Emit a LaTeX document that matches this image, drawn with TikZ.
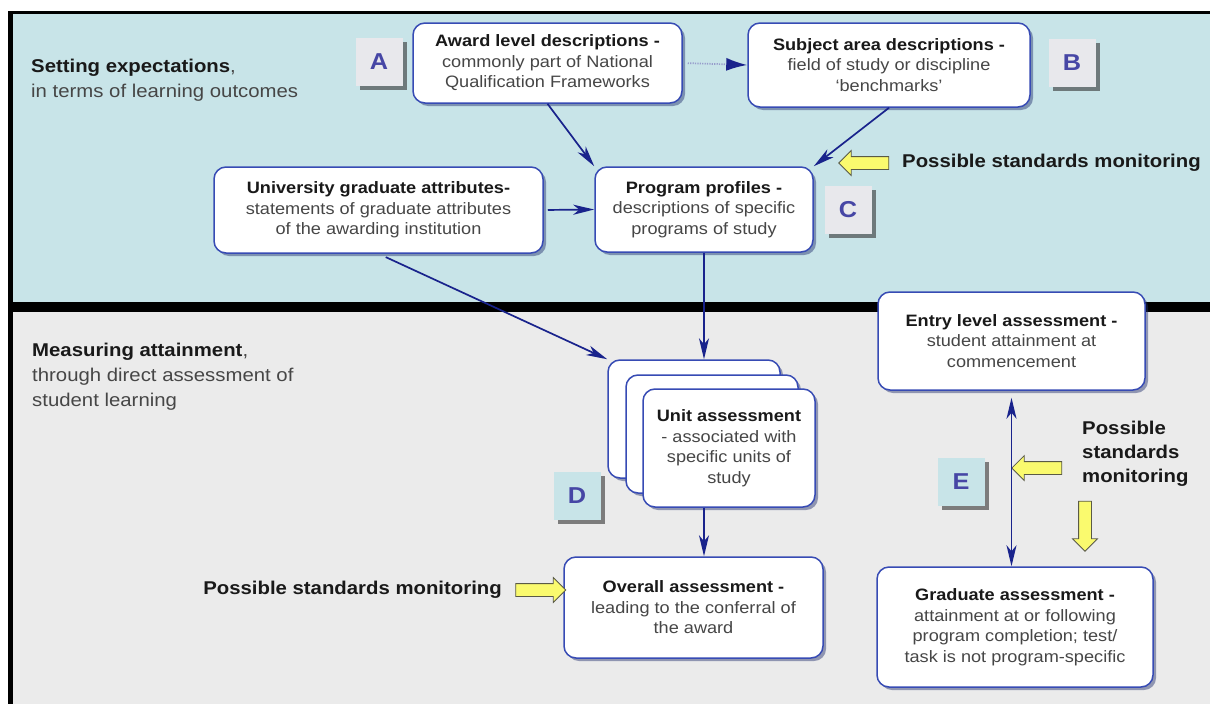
\documentclass[tikz,border=0pt]{standalone}
\usepackage{fontspec}
\setmainfont{Liberation Sans}[FakeStretch=1.1]
\usepackage{tikz}
\usetikzlibrary{arrows.meta,shadows,shapes.arrows}
\definecolor{PanelBlue}{RGB}{200,228,232}
\definecolor{PanelGray}{RGB}{235,235,235}
\definecolor{BoxBlue}{RGB}{55,75,180}
\definecolor{LinkNavy}{RGB}{25,35,140}
\definecolor{TagBlue}{RGB}{70,70,165}
\definecolor{TagGray}{RGB}{232,232,236}
\definecolor{MarkYellow}{RGB}{250,250,110}
\definecolor{MarkEdge}{RGB}{90,90,70}
\definecolor{BodyGray}{RGB}{70,70,70}
\definecolor{HeadBlack}{RGB}{25,25,25}
\newcommand{\hd}[1]{\textbf{\color{HeadBlack}#1}}

\begin{document}
\begin{tikzpicture}[x=1pt,y=-1pt,
box/.style={draw=BoxBlue,fill=white,line width=1.5pt,rounded corners=12pt,align=center,text=BodyGray,font=\fontsize{16.5}{20.5}\selectfont,inner sep=4pt,drop shadow={shadow xshift=3pt,shadow yshift=-3pt,fill=BoxBlue!60!black,opacity=0.45}},
card/.style={box,minimum width=172pt,minimum height=118pt},
tag/.style={fill=TagGray,minimum width=47pt,minimum height=48pt,text=TagBlue,font=\fontsize{23}{23}\selectfont\bfseries,drop shadow={shadow xshift=4pt,shadow yshift=-4pt,fill=black!80,opacity=0.6}},
lbl/.style={align=left,text=BodyGray,font=\fontsize{18.5}{25}\selectfont,inner sep=0pt},
mon/.style={align=left,text=HeadBlack,font=\fontsize{18.5}{24}\selectfont\bfseries,inner sep=0pt},
ymark/.style={single arrow,draw=MarkEdge,fill=MarkYellow,line width=0.8pt,minimum height=50pt,inner xsep=0pt,inner ysep=6pt,single arrow head extend=6pt},
link/.style={draw=LinkNavy,line width=1.7pt,-{Stealth[length=21pt,width=10pt,inset=6pt]}}
]
\useasboundingbox (0,0) rectangle (1210,704);
\fill[white] (0,0) rectangle (1210,704);
\fill[PanelBlue] (10,13) rectangle (1210,303);
\fill[PanelGray] (10,311) rectangle (1210,704);
\draw[line width=3pt] (8,12.5) -- (1210,12.5);
\draw[line width=5pt] (10,11) -- (10,704);
\draw[line width=10pt] (8,307) -- (1210,307);

\node[lbl,anchor=west] (setexp) at (31,80.5) {\hd{Setting expectations},\\in terms of learning outcomes};
\node[lbl,anchor=west] (measure) at (32,377) {\hd{Measuring attainment},\\through direct assessment of\\student learning};

\node[box,minimum width=269pt,minimum height=80pt] (award) at (547.5,63) {\hd{Award level descriptions -}\\commonly part of National\\Qualification Frameworks};
\node[box,minimum width=282pt,minimum height=84pt] (subject) at (889,65) {\hd{Subject area descriptions -}\\field of study or discipline\\`benchmarks'};
\node[box,minimum width=329pt,minimum height=86pt] (univ) at (378.5,210) {\hd{University graduate attributes-}\\statements of graduate attributes\\of the awarding institution};
\node[box,minimum width=218pt,minimum height=85pt] (prog) at (704,209.5) {\hd{Program profiles -}\\descriptions of specific\\programs of study};
\node[card] (unitback) at (694,419) {};
\node[card] (unitmid) at (712,434) {};
\node[card] (unit) at (729,448) {\hd{Unit assessment}\\- associated with\\specific units of\\study};
\node[box,minimum width=259pt,minimum height=101pt] (overall) at (693.5,607.5) {\hd{Overall assessment -}\\leading to the conferral of\\the award};
\node[box,minimum width=267pt,minimum height=98pt] (entry) at (1011.5,341) {\hd{Entry level assessment -}\\student attainment at\\commencement};
\node[box,minimum width=276pt,minimum height=120pt] (grad) at (1015,627) {\hd{Graduate assessment -}\\attainment at or following\\program completion; test/\\task is not program-specific};

\node[tag] (tagA) at (379,62) {A};
\node[tag] (tagB) at (1072,63) {B};
\node[tag] (tagC) at (848,210) {C};
\node[tag,fill=PanelBlue] (tagD) at (577,496) {D};
\node[tag,fill=PanelBlue] (tagE) at (961,482) {E};

\node[ymark,rotate=180] (watchC) at (867,163) {};
\node[mon,anchor=west] (monC) at (902,163) {Possible standards monitoring};
\node[ymark] (watchD) at (537.5,590) {};
\node[mon,anchor=east] (monD) at (502,590) {Possible standards monitoring};
\node[ymark,rotate=180] (watchE) at (1040,468) {};
\node[ymark,rotate=-90] (watchG) at (1085,523) {};
\node[mon,anchor=west] (monE) at (1082,454) {Possible\\standards\\monitoring};

\draw[link,draw=LinkNavy!45,dash pattern=on 1.2pt off 1.2pt,shorten <=5pt,-{Latex[length=21pt,width=13pt,color=LinkNavy]}] (award.east) -- (subject.west);
\draw[link] (award.south) -- (prog.north west);
\draw[link] (subject.south) -- (prog.north east);
\draw[link,shorten <=4pt] (univ.east) -- (prog.west);
\draw[link,shorten <=8pt] (univ.south) -- (unitback.north west);
\draw[link] (prog.south) -- (prog.south |- unitback.north);
\draw[link] (prog.south |- unit.south) -- (prog.south |- overall.north);
\draw[link,{Stealth[length=21pt,width=10pt,inset=6pt]}-{Stealth[length=21pt,width=10pt,inset=6pt]},shorten <=7pt] (entry.south) -- (entry.south |- grad.north);
\end{tikzpicture}
\end{document}
